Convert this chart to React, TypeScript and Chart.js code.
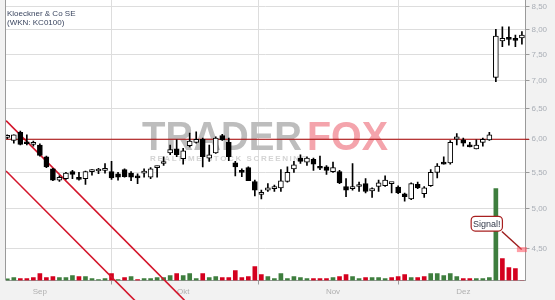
import React, { useEffect, useRef } from 'react';
import { Chart, registerables } from 'chart.js';

Chart.register(...registerables);

// ---- Data (Kloeckner & Co SE, daily, 25.08. – 12.12.) ----
const opens = [
  6.03, 5.98, 6.11, 5.94, 5.92, 5.91, 5.73, 5.55, 5.39, 5.41,
  5.51, 5.42, 5.41, 5.51, 5.52, 5.53, 5.51, 5.48, 5.54, 5.49,
  5.45, 5.49, 5.43, 5.57, 5.63, 5.79, 5.85, 5.70, 5.90, 5.95,
  6.00, 5.71, 5.79, 6.06, 5.95, 5.64, 5.51, 5.57, 5.37, 5.19,
  5.25, 5.27, 5.28, 5.37, 5.55, 5.71, 5.65, 5.69, 5.57, 5.58,
  5.51, 5.51, 5.30, 5.27, 5.30, 5.34, 5.24, 5.30, 5.31, 5.34,
  5.29, 5.20, 5.13, 5.33, 5.20, 5.31, 5.50, 5.63, 5.64, 6.00,
  5.99, 5.89, 5.85, 5.95, 5.99, 7.06, 7.77, 7.81, 7.79, 7.83,
];
const highs = [
  6.07, 6.07, 6.13, 6.07, 5.97, 5.93, 5.74, 5.56, 5.45, 5.50,
  5.53, 5.50, 5.52, 5.54, 5.56, 5.63, 5.66, 5.50, 5.55, 5.51,
  5.48, 5.55, 5.57, 5.59, 5.73, 5.91, 5.99, 5.86, 6.10, 6.12,
  6.02, 5.91, 6.04, 6.08, 6.02, 5.66, 5.55, 5.58, 5.39, 5.25,
  5.34, 5.32, 5.54, 5.58, 5.66, 5.76, 5.73, 5.71, 5.74, 5.60,
  5.65, 5.53, 5.41, 5.63, 5.36, 5.41, 5.28, 5.39, 5.45, 5.35,
  5.31, 5.21, 5.35, 5.36, 5.30, 5.54, 5.63, 5.73, 5.98, 6.09,
  6.02, 5.95, 5.99, 6.02, 6.11, 8.01, 8.06, 8.06, 7.89, 7.96,
];
const lows = [
  6.01, 5.94, 5.91, 5.91, 5.89, 5.74, 5.57, 5.38, 5.37, 5.40,
  5.41, 5.39, 5.33, 5.46, 5.48, 5.49, 5.40, 5.39, 5.43, 5.38,
  5.34, 5.43, 5.41, 5.43, 5.60, 5.76, 5.73, 5.62, 5.88, 5.94,
  5.58, 5.66, 5.78, 5.98, 5.67, 5.45, 5.44, 5.38, 5.17, 5.13,
  5.23, 5.23, 5.23, 5.36, 5.50, 5.63, 5.60, 5.53, 5.54, 5.47,
  5.50, 5.34, 5.16, 5.25, 5.23, 5.21, 5.15, 5.23, 5.30, 5.21,
  5.20, 5.10, 5.12, 5.27, 5.15, 5.30, 5.42, 5.62, 5.62, 5.91,
  5.89, 5.88, 5.85, 5.89, 5.98, 6.98, 7.65, 7.68, 7.65, 7.70,
];
const closes = [
  6.05, 6.07, 5.92, 5.93, 5.93, 5.75, 5.58, 5.39, 5.43, 5.49,
  5.47, 5.40, 5.51, 5.52, 5.53, 5.54, 5.42, 5.43, 5.44, 5.43,
  5.42, 5.50, 5.55, 5.58, 5.64, 5.84, 5.76, 5.82, 5.97, 6.00,
  5.73, 5.76, 6.02, 5.99, 5.73, 5.58, 5.50, 5.38, 5.25, 5.21,
  5.28, 5.28, 5.38, 5.50, 5.61, 5.66, 5.71, 5.62, 5.56, 5.53,
  5.57, 5.35, 5.25, 5.28, 5.31, 5.23, 5.27, 5.35, 5.39, 5.35,
  5.21, 5.16, 5.34, 5.28, 5.28, 5.50, 5.59, 5.62, 5.95, 6.04,
  5.94, 5.88, 5.91, 6.00, 6.07, 7.87, 7.82, 7.80, 7.78, 7.89,
];
// volume in thousand shares
const volumes = [
  17, 30, 20, 20, 30, 70, 30, 40, 30, 30,
  50, 40, 40, 20, 10, 20, 70, 10, 30, 40,
  10, 20, 20, 30, 30, 50, 70, 50, 70, 20,
  70, 30, 40, 30, 30, 100, 30, 40, 140, 60,
  40, 20, 70, 20, 40, 30, 20, 20, 20, 20,
  30, 40, 60, 40, 20, 30, 30, 30, 20, 30,
  40, 60, 30, 30, 40, 70, 70, 50, 70, 40,
  20, 20, 20, 20, 30, 920, 220, 130, 120, 0,
];
// 1 = rising volume bar (green), 0 = falling (red)
const volumeUp = [
  1, 1, 0, 0, 0, 0, 0, 0, 1, 1,
  1, 0, 1, 1, 1, 1, 0, 1, 0, 1,
  0, 1, 1, 1, 1, 1, 0, 1, 1, 1,
  0, 1, 1, 0, 0, 0, 0, 0, 0, 0,
  1, 1, 1, 1, 1, 1, 1, 0, 0, 0,
  1, 0, 0, 1, 1, 0, 1, 1, 1, 0,
  0, 0, 1, 0, 0, 1, 1, 1, 1, 1,
  0, 0, 1, 1, 1, 1, 0, 0, 0, 0,
];
const monthTickIndex = [5, 27, 50, 70];
const monthLabels = ['Sep', 'Okt', 'Nov', 'Dez'];
const priceTicks = [4.5, 5.0, 5.5, 6.0, 6.5, 7.0, 7.5, 8.0, 8.5];
const resistanceLevel = 6.0;
const trendUpper = [{ x: -0.2, y: 6.3 }, { x: 27.2, y: 3.93 }];
const trendLower = [{ x: -0.2, y: 5.52 }, { x: 20.0, y: 3.9 }];
const signalLine = [{ x: 75.93, y: 4.71 }, { x: 78.96, y: 4.49 }];
const signalMarker = [{ x: 78.23, y: 4.49 }, { x: 79.77, y: 4.49 }];
const signalText = 'Signal!';
const titleLines = ['Kloeckner & Co SE', '(WKN: KC0100)'];

const FONT = "'Liberation Sans', Arial, sans-serif";

const decorPlugin = {
  id: 'decor',
  beforeDraw(chart: any) {
    const { ctx, chartArea: a, width, height } = chart;
    ctx.save();
    ctx.fillStyle = '#f2f2f2';
    ctx.fillRect(0, 0, width, height);
    ctx.fillStyle = '#ffffff';
    ctx.fillRect(a.left, a.top, a.right - a.left, a.bottom - a.top);
    ctx.restore();
  },
  beforeDatasetsDraw(chart: any) {
    const { ctx, chartArea: a } = chart;
    ctx.save();
    // watermark
    ctx.textBaseline = 'alphabetic';
    ctx.textAlign = 'left';
    ctx.font = `bold 40px ${FONT}`;
    ctx.fillStyle = '#bdbdbd';
    ctx.fillText('TRADER', 142, 150, 160);
    ctx.fillStyle = '#f4a4ac';
    ctx.fillText('FOX', 307, 150, 81);
    ctx.font = `bold 8px ${FONT}`;
    try { (ctx as any).letterSpacing = '1.6px'; } catch (e) {}
    ctx.fillStyle = '#d4d4d4';
    ctx.fillText('REALTIME STOCK SCREENING', 150, 161);
    try { (ctx as any).letterSpacing = '0px'; } catch (e) {}
    // left border
    ctx.strokeStyle = '#9a9a9a';
    ctx.lineWidth = 1;
    ctx.beginPath();
    ctx.moveTo(a.left - 0.5, a.top);
    ctx.lineTo(a.left - 0.5, a.bottom);
    ctx.stroke();
    ctx.restore();
  },
  afterDatasetsDraw(chart: any) {
    const { ctx } = chart;
    const xs = chart.scales.x;
    const ys = chart.scales.y;
    ctx.save();
    // title
    ctx.font = `8px ${FONT}`;
    ctx.fillStyle = '#3b4660';
    ctx.textAlign = 'left';
    ctx.textBaseline = 'alphabetic';
    ctx.fillText(titleLines[0], 7, 15.5);
    ctx.fillText(titleLines[1], 7, 25);
    // signal box
    const x1 = xs.getPixelForValue(71.13);
    const x2 = xs.getPixelForValue(75.93);
    const y1 = ys.getPixelForValue(4.906);
    const y2 = ys.getPixelForValue(4.72);
    ctx.beginPath();
    ctx.roundRect(x1 + 0.5, y1 + 0.5, x2 - x1, y2 - y1, 4);
    ctx.fillStyle = '#ffffff';
    ctx.fill();
    ctx.strokeStyle = '#a82020';
    ctx.lineWidth = 1.2;
    ctx.stroke();
    ctx.font = `9px ${FONT}`;
    ctx.fillStyle = '#333a4a';
    ctx.textAlign = 'center';
    ctx.textBaseline = 'middle';
    ctx.fillText(signalText, (x1 + x2) / 2 + 0.5, (y1 + y2) / 2 + 1);
    ctx.restore();
  },
};

export default function App() {
  const ref = useRef<HTMLCanvasElement>(null);
  useEffect(() => {
    document.body.style.margin = '0';
    const idx = opens.map((_, i) => i);
    const chart = new Chart(ref.current as HTMLCanvasElement, {
      type: 'bar',
      data: {
        datasets: [
          {
            type: 'bar',
            label: 'Volumen',
            yAxisID: 'vol',
            data: idx.map((i) => ({ x: i, y: volumes[i] })),
            backgroundColor: idx.map((i) => (volumeUp[i] ? '#3e7e3e' : '#d4001e')),
            barThickness: 4,
            grouped: false,
            order: 6,
          } as any,
          {
            type: 'line',
            label: 'Trend oben',
            yAxisID: 'y',
            data: trendUpper,
            borderColor: '#d3152b',
            borderWidth: 1.6,
            pointRadius: 0,
            clip: { left: 0, top: 0, right: 0, bottom: false },
            order: 5,
          } as any,
          {
            type: 'line',
            label: 'Trend unten',
            yAxisID: 'y',
            data: trendLower,
            borderColor: '#d3152b',
            borderWidth: 1.6,
            pointRadius: 0,
            clip: { left: 0, top: 0, right: 0, bottom: false },
            order: 5,
          } as any,
          {
            type: 'line',
            label: 'Widerstand',
            yAxisID: 'y',
            data: [{ x: -0.2, y: resistanceLevel }, { x: 80.1, y: resistanceLevel }],
            borderColor: '#a80000',
            borderWidth: 1.2,
            pointRadius: 0,
            clip: { left: 0, top: 0, right: false, bottom: 0 },
            order: 4,
          } as any,
          {
            type: 'bar',
            label: 'Docht',
            yAxisID: 'y',
            data: idx.map((i) => ({ x: i, y: [lows[i], highs[i]] })),
            backgroundColor: '#000000',
            barThickness: 1,
            grouped: false,
            order: 3,
          } as any,
          {
            type: 'bar',
            label: 'Kerze',
            yAxisID: 'y',
            data: idx.map((i) => ({ x: i, y: [opens[i], closes[i]] })),
            backgroundColor: idx.map((i) => (closes[i] >= opens[i] ? '#ffffff' : '#000000')),
            borderColor: '#000000',
            borderWidth: 1,
            borderSkipped: false,
            barThickness: 5,
            minBarLength: 2,
            grouped: false,
            order: 2,
          } as any,
          {
            type: 'line',
            label: 'Signal',
            yAxisID: 'y',
            data: signalLine,
            borderColor: '#9c1c1c',
            borderWidth: 1.4,
            pointRadius: 0,
            clip: false,
            order: 1,
          } as any,
          {
            type: 'line',
            label: 'Marker',
            yAxisID: 'y',
            data: signalMarker,
            borderColor: 'rgba(255,80,95,0.55)',
            borderWidth: 5,
            pointRadius: 0,
            clip: false,
            order: 0,
          } as any,
        ],
      },
      options: {
        animation: false,
        responsive: true,
        maintainAspectRatio: false,
        events: [],
        layout: { padding: { left: 6, right: 0, top: 0, bottom: 0 } },
        plugins: { legend: { display: false }, tooltip: { enabled: false } },
        scales: {
          x: {
            type: 'linear',
            min: -0.2,
            max: 79.55,
            bounds: 'data',
            offset: false,
            grid: { color: '#dddddd', lineWidth: 1, drawTicks: true, tickLength: 4, tickColor: '#9a9a9a' },
            border: { display: true, color: '#9a9a9a', width: 1 },
            ticks: {
              autoSkip: false,
              maxRotation: 0,
              color: '#b0b0b0',
              font: { family: FONT, size: 8 },
              padding: 2,
              callback: (v: any) => {
                const k = monthTickIndex.indexOf(Number(v));
                return k >= 0 ? monthLabels[k] : '';
              },
            },
            afterBuildTicks: (s: any) => {
              s.ticks = monthTickIndex.map((v) => ({ value: v }));
            },
            afterFit: (s: any) => {
              s.height = 19.5;
              s.paddingLeft = 0;
              s.paddingRight = 0;
            },
          },
          y: {
            type: 'logarithmic',
            position: 'right',
            min: 4.14,
            max: 8.65,
            bounds: 'data',
            grid: { color: '#dddddd', lineWidth: 1, drawTicks: true, tickLength: 4, tickColor: '#9a9a9a' },
            border: { display: true, color: '#9a9a9a', width: 1 },
            ticks: {
              color: '#a9aeb6',
              font: { family: FONT, size: 8 },
              padding: 2,
              callback: (v: any) => Number(v).toFixed(2).replace('.', ','),
            },
            afterBuildTicks: (s: any) => {
              s.ticks = priceTicks.map((v) => ({ value: v }));
            },
            afterFit: (s: any) => {
              s.width = 29.5;
              s.paddingTop = 0;
              s.paddingBottom = 0;
            },
          },
          vol: { type: 'linear', display: false, min: 0, max: 2805 },
        },
      } as any,
      plugins: [decorPlugin],
    });
    return () => chart.destroy();
  }, []);
  return (
    <div style={{ position: 'fixed', left: 0, top: 0, width: 555, height: 300, background: '#f2f2f2' }}>
      <canvas ref={ref} />
    </div>
  );
}
